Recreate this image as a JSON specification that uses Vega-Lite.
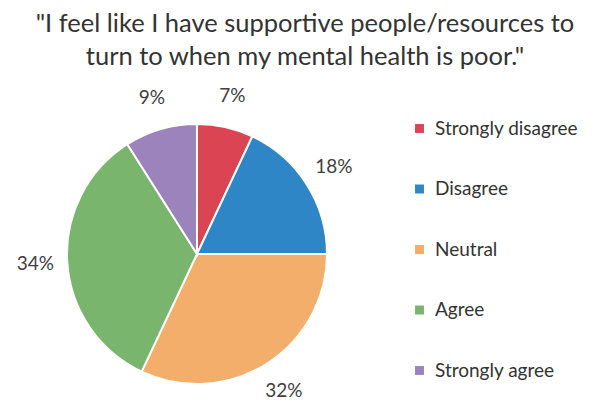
{
  "$schema": "https://vega.github.io/schema/vega-lite/v6.json",
  "width": 394,
  "height": 260,
  "autosize": "none",
  "padding": {"left": 0, "top": 124, "right": 214, "bottom": 16},
  "background": "white",
  "title": {
    "text": ["\"I feel like I have supportive people/resources to", "turn to when my mental health is poor.\""],
    "font": "Lato",
    "fontSize": 25.5,
    "fontWeight": "normal",
    "color": "#333333",
    "lineHeight": 33,
    "anchor": "middle",
    "dx": 108,
    "offset": 16
  },
  "data": {
    "values": [
      {"response": "Strongly disagree", "pct": 7, "idx": 1, "label": "7%"},
      {"response": "Disagree", "pct": 18, "idx": 2, "label": "18%"},
      {"response": "Neutral", "pct": 32, "idx": 3, "label": "32%"},
      {"response": "Agree", "pct": 34, "idx": 4, "label": "34%"},
      {"response": "Strongly agree", "pct": 9, "idx": 5, "label": "9%"}
    ]
  },
  "encoding": {
    "theta": {"field": "pct", "type": "quantitative", "stack": true},
    "order": {"field": "idx", "type": "quantitative"}
  },
  "layer": [
    {
      "mark": {"type": "arc", "outerRadius": 130, "stroke": "white", "strokeWidth": 2},
      "encoding": {
        "color": {
          "field": "response",
          "type": "nominal",
          "sort": ["Strongly disagree", "Disagree", "Neutral", "Agree", "Strongly agree"],
          "scale": {
            "domain": ["Strongly disagree", "Disagree", "Neutral", "Agree", "Strongly agree"],
            "range": ["#DA4453", "#2F86C6", "#F4AE6B", "#7AB56E", "#9C83BC"]
          },
          "legend": {
            "title": null,
            "orient": "none",
            "legendX": 410,
            "legendY": -5,
            "symbolType": "square",
            "symbolSize": 80,
            "symbolStrokeWidth": 0,
            "labelFont": "Lato",
            "labelFontSize": 19,
            "labelColor": "#333333",
            "labelOffset": 6,
            "rowPadding": 40.5,
            "labelLimit": 250
          }
        }
      }
    },
    {
      "mark": {"type": "text", "radius": 162, "font": "Lato", "fontSize": 19, "color": "#404040"},
      "encoding": {"text": {"field": "label"}}
    }
  ],
  "config": {"view": {"stroke": null}}
}
